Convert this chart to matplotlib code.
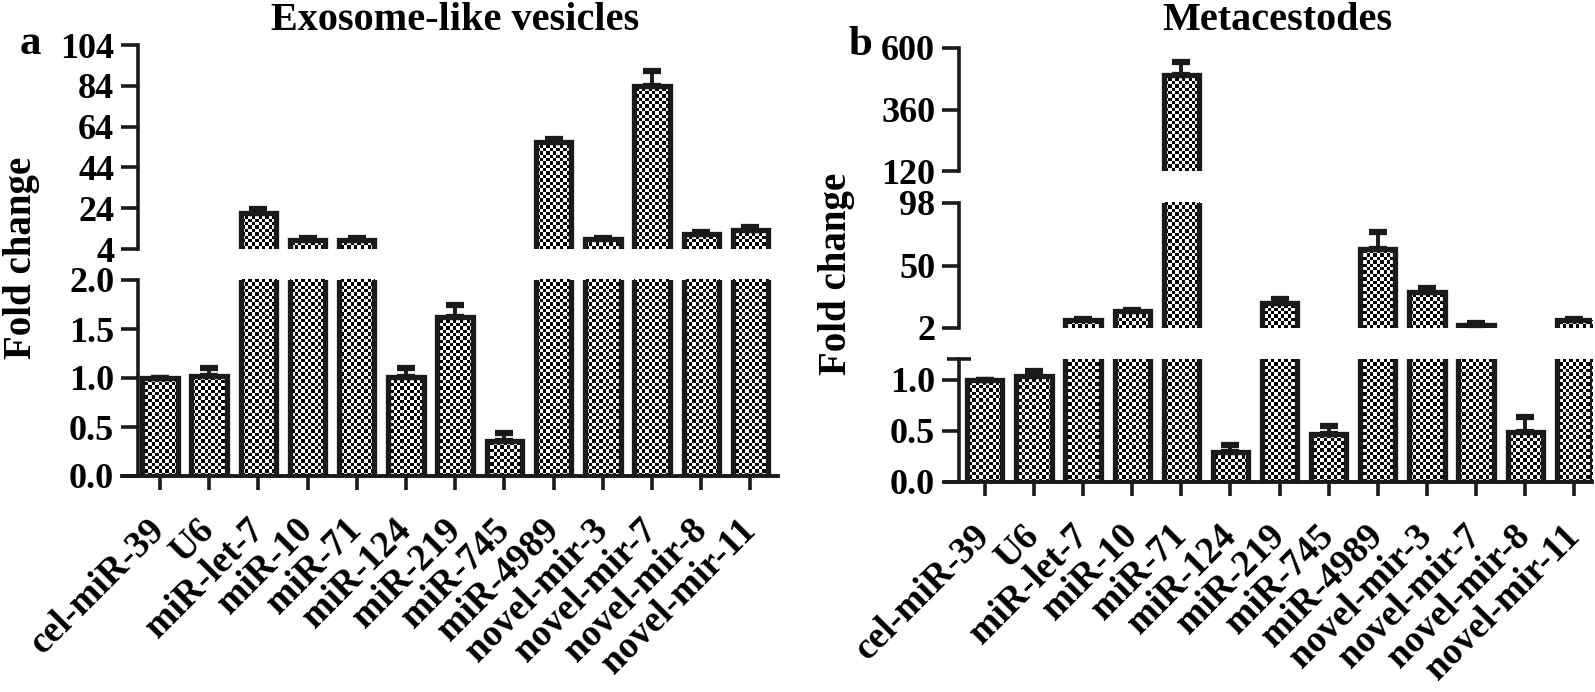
import numpy as np
import matplotlib.pyplot as plt

plt.rcParams['font.family'] = ['Liberation Serif', 'DejaVu Serif']
plt.rcParams['font.weight'] = 'bold'

categories = ['cel-miR-39', 'U6', 'miR-let-7', 'miR-10', 'miR-71', 'miR-124',
              'miR-219', 'miR-745', 'miR-4989', 'novel-mir-3', 'novel-mir-7',
              'novel-mir-8', 'novel-mir-11']

# panel a: exosome-like vesicles (mean, upper error)
exo_mean = [1.0, 1.02, 21.5, 8.5, 8.5, 1.01, 1.62, 0.36, 56.5, 8.8, 84.0, 11.2, 13.3]
exo_err = [0.0, 0.08, 2.0, 0.8, 1.0, 0.09, 0.12, 0.08, 1.2, 0.8, 7.5, 0.9, 1.5]

# panel b: metacestodes
meta_mean = [1.0, 1.03, 7.8, 14.8, 493.0, 0.29, 21.0, 0.47, 62.5, 29.5, 4.6, 0.49, 7.8]
meta_err = [0.0, 0.05, 1.0, 1.2, 52.0, 0.07, 3.5, 0.08, 13.0, 3.0, 1.0, 0.14, 1.0]

W, H = 1595, 692
FS_Y = 26
FS_X = 27
INK = '#1a1a1a'


def make_axes(fig, x_px, y_px):
    left, right = x_px
    top, bottom = y_px
    return fig.add_axes([left / W, 1 - bottom / H, (right - left) / W, (bottom - top) / H])


def checker_fill(ax, bars, cell=3.3):
    # black/white checkerboard inside every bar, clipped to the bar outline
    bb = ax.get_window_extent()
    nx = max(int(bb.width / cell), 2)
    ny = max(int(bb.height / cell), 2)
    ii, jj = np.indices((ny, nx))
    board = ((ii + jj) % 2).astype(float)
    xl, yl = ax.get_xlim(), ax.get_ylim()
    for b in bars:
        im = ax.imshow(board, extent=(xl[0], xl[1], yl[0], yl[1]), cmap='gray',
                       vmin=0, vmax=1, interpolation='nearest', aspect='auto',
                       origin='lower', zorder=2)
        im.set_clip_path(b)
    ax.set_xlim(xl)
    ax.set_ylim(yl)


def draw_segment(ax, means, errs, lo, hi, ticks, labels, ends, xlim, spine_x, bottom):
    x = np.arange(len(categories))
    m = np.array(means, dtype=float)
    e = np.array(errs, dtype=float)
    # bars that never reach this segment are left out
    keep = m >= lo
    bars = ax.bar(x[keep], m[keep], width=0.72, facecolor='none', edgecolor=INK,
                  linewidth=3.8, zorder=3)
    ax.errorbar(x[keep], m[keep], yerr=[np.zeros(keep.sum()), e[keep]], fmt='none',
                ecolor=INK, elinewidth=2.8, capsize=6.5, capthick=4.5, zorder=4)
    ax.set_xlim(xlim)
    ax.set_ylim(lo, hi)
    checker_fill(ax, bars)

    for s in ['top', 'right']:
        ax.spines[s].set_visible(False)
    ax.spines['left'].set_position(('data', spine_x))
    ax.spines['left'].set_linewidth(2.6)
    ax.spines['left'].set_color(INK)
    ax.set_yticks(ticks)
    ax.set_yticklabels(labels, fontsize=FS_Y, fontweight='bold')
    ax.set_yticks(ends, minor=True)
    ax.tick_params(axis='y', which='major', direction='out', length=12, width=2.6,
                   pad=5, color=INK)
    ax.tick_params(axis='y', which='minor', direction='inout', length=17, width=2.6,
                   color=INK)
    if bottom:
        ax.spines['bottom'].set_linewidth(2.8)
        ax.spines['bottom'].set_color(INK)
        ax.set_xticks(x)
        ax.set_xticklabels(categories, rotation=45, ha='right', va='center',
                           rotation_mode='anchor', fontsize=FS_X, fontweight='bold')
        ax.tick_params(axis='x', direction='out', length=10, width=2.6, pad=25,
                       color=INK)
    else:
        ax.spines['bottom'].set_visible(False)
        ax.set_xticks([])


fig = plt.figure(figsize=(W / 100, H / 100), dpi=100)

# panel a
xa = (122, 778)
xlim_a = (-0.77, 12.56)
ax_a_low = make_axes(fig, xa, (280, 476))
ax_a_up = make_axes(fig, xa, (45, 249))
draw_segment(ax_a_low, exo_mean, exo_err, 0, 2.0, [0, 0.5, 1.0, 1.5, 2.0],
             ['0.0', '0.5', '1.0', '1.5', '2.0'], [2.0], xlim_a, -0.45, True)
draw_segment(ax_a_up, exo_mean, exo_err, 4, 104, [4, 24, 44, 64, 84, 104],
             ['4', '24', '44', '64', '84', '104'], [4], xlim_a, -0.45, False)

# panel b
xb = (946, 1592)
xlim_b = (-0.79, 12.36)
ax_b_low = make_axes(fig, xb, (359, 482))
ax_b_mid = make_axes(fig, xb, (203, 328))
ax_b_up = make_axes(fig, xb, (48, 171))
draw_segment(ax_b_low, meta_mean, meta_err, 0, 1.2, [0, 0.5, 1.0],
             ['0.0', '0.5', '1.0'], [1.2], xlim_b, -0.53, True)
draw_segment(ax_b_mid, meta_mean, meta_err, 2, 98, [2, 50, 98],
             ['2', '50', '98'], [2, 98], xlim_b, -0.53, False)
draw_segment(ax_b_up, meta_mean, meta_err, 120, 600, [120, 360, 600],
             ['120', '360', '600'], [120], xlim_b, -0.53, False)

# titles, panel letters, axis labels
fig.text(455 / W, 1 - 20 / H, 'Exosome-like vesicles', ha='center', va='center',
         fontsize=29, fontweight='bold')
fig.text(1277 / W, 1 - 21 / H, 'Metacestodes', ha='center', va='center',
         fontsize=29, fontweight='bold')
fig.text(30 / W, 1 - 44 / H, 'a', ha='center', va='center', fontsize=31, fontweight='bold')
fig.text(860 / W, 1 - 45 / H, 'b', ha='center', va='center', fontsize=31, fontweight='bold')
fig.text(22 / W, 1 - 258 / H, 'Fold change', rotation=90, ha='center', va='center',
         fontsize=28, fontweight='bold')
fig.text(836 / W, 1 - 274 / H, 'Fold change', rotation=90, ha='center', va='center',
         fontsize=28, fontweight='bold')

fig.savefig('out.png', dpi=100)
